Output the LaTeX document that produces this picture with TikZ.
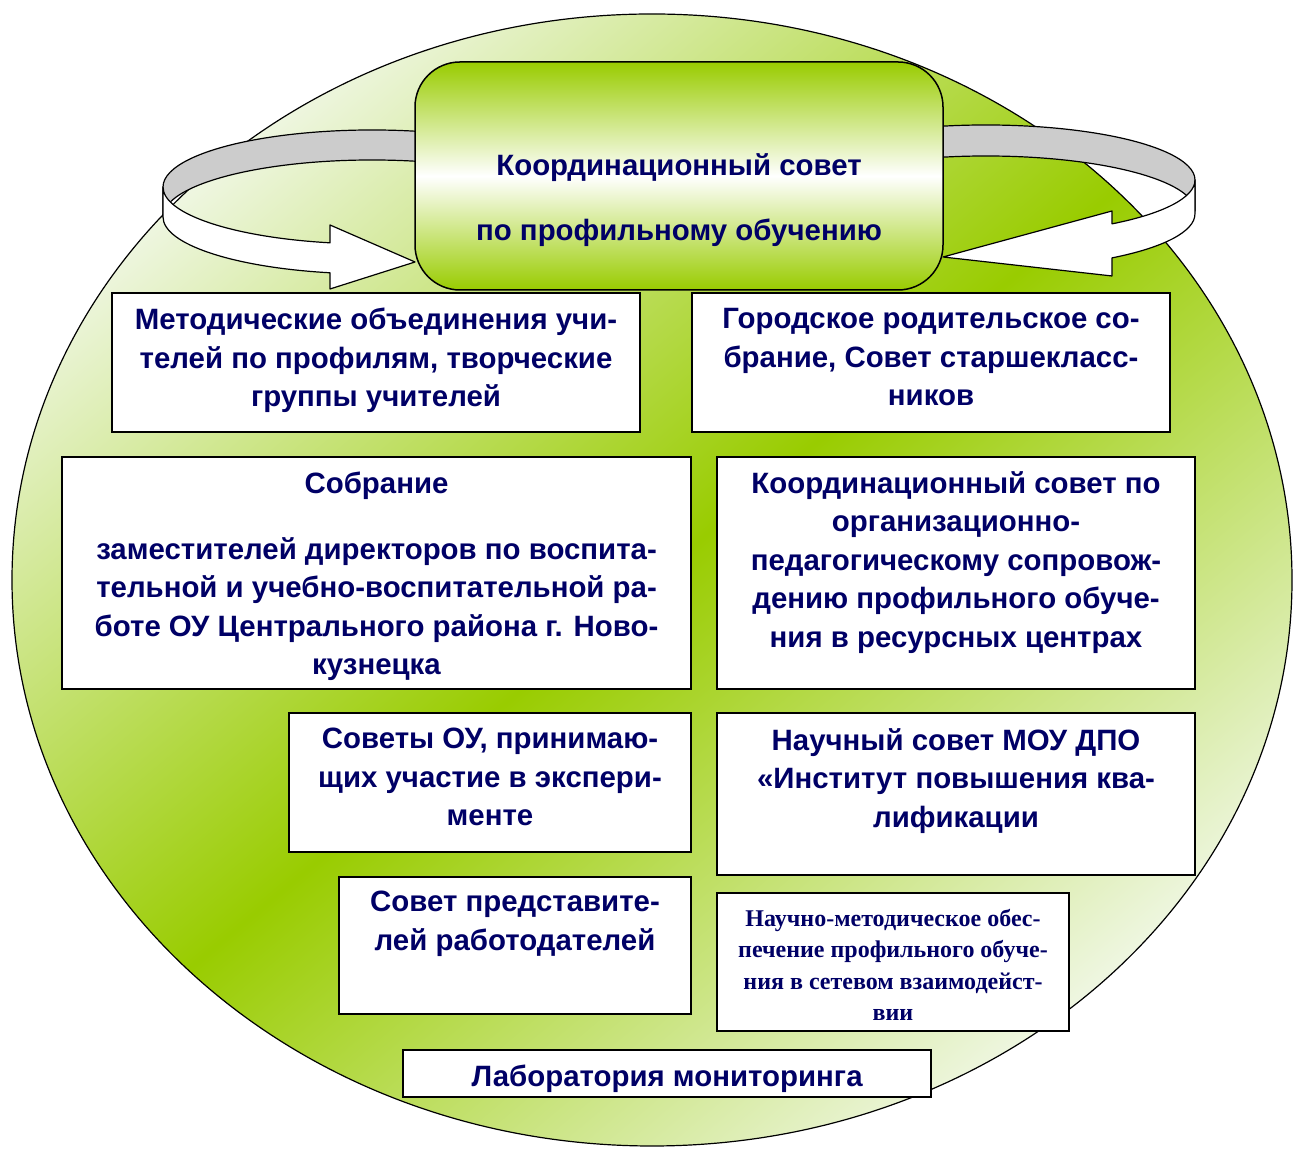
\documentclass[tikz,border=0pt]{standalone}
\usepackage{fontspec}
\setmainfont{Liberation Sans}
\newfontfamily\timesbox{Liberation Serif}
\usepackage{tikz}
\usetikzlibrary{positioning}
\definecolor{leaf}{RGB}{153,204,0}
\definecolor{pale}{RGB}{242,248,234}
\definecolor{bandgray}{RGB}{204,204,204}
\definecolor{inkblue}{RGB}{0,0,102}

\begin{document}
\begin{tikzpicture}[x=1pt,y=1pt,
  box/.style={draw,line width=1.5pt,fill=white,inner sep=0pt},
  txt/.style={inner sep=0pt,align=center,text=inkblue,
    font=\bfseries\fontsize{29.4}{38.5}\selectfont},
  ribbon/.style={draw,line width=1.2pt,line join=round}]
  \fill[white] (0,0) rectangle (1293,1150);
  \useasboundingbox (0,0) rectangle (1293,1150);

  % green disc
  \coordinate (disc) at (652,570);
  \begin{scope}
    \clip (disc) ellipse [x radius=640, y radius=566];
    \begin{scope}[transform canvas={rotate around={40:(disc)}}]
      \shade[top color=pale, bottom color=pale, middle color=leaf]
        (-48,-50) rectangle (1352,1190);
    \end{scope}
  \end{scope}
  \draw[line width=1.2pt] (disc) ellipse [x radius=640, y radius=566];

  % left ribbon
  \coordinate (lc) at (372,963);
  \coordinate (lefttip) at (415,888);
  \path[ribbon,fill=bandgray] (lc) ++(60:209 and 57)
    arc[start angle=60, end angle=180, x radius=209, y radius=57]
    -- ++(0,-30)
    arc[start angle=180, end angle=60, x radius=209, y radius=57] -- cycle;
  \path[ribbon,fill=white] (lc) ++(180:209 and 57)
    arc[start angle=180, end angle=258.4, x radius=209, y radius=57]
    -- (330,925) -- (lefttip) -- (330,861) -- (330,877.2)
    arc[start angle=258.4, end angle=180, x radius=209, y radius=57] -- cycle;

  % right ribbon
  \coordinate (rc) at (986,970);
  \coordinate (righttip) at (943,893);
  \path[ribbon,fill=bandgray] (rc) ++(120:209 and 55)
    arc[start angle=120, end angle=0, x radius=209, y radius=55]
    -- ++(0,-31)
    arc[start angle=0, end angle=120, x radius=209, y radius=55] -- cycle;
  \path[ribbon,fill=white] (rc) ++(0:209 and 55)
    arc[start angle=360, end angle=307.1, x radius=209, y radius=55]
    -- (1112,939) -- (righttip) -- (1112,874) -- (1112,892.1)
    arc[start angle=307.1, end angle=360, x radius=209, y radius=55] -- cycle;

  % council
  \node[draw,line width=1.5pt,rounded corners=45pt,
    top color=leaf,bottom color=leaf,middle color=white,
    minimum width=528,minimum height=228] (council) at (679,974) {};
  \node[txt,below=92pt of council.north] (counciltext)
    {Координационный совет\\[26.5pt]по профильному обучению};

  % boxes
  \node[box,minimum width=528,minimum height=139] (metod) at (376,787.5) {};
  \node[txt,below=16pt of metod.north] (metodtext)
    {Методические объединения учи-\\телей по профилям, творческие\\группы учителей};

  \node[box,minimum width=478,minimum height=139] (parents) at (931,787.5) {};
  \node[txt,below=16pt of parents.north] (parentstext)
    {Городское родительское со-\\брание, Совет старшекласс-\\ников};

  \node[box,minimum width=629,minimum height=232] (deputies) at (376.5,577) {};
  \node[txt,below=15pt of deputies.north] (deputiestext)
    {Собрание\\[27.5pt]заместителей директоров по воспита-\\тельной и учебно-воспитательной ра-\\боте ОУ Центрального района г. Ново-\\кузнецка};

  \node[box,minimum width=478,minimum height=232] (centres) at (956,577) {};
  \node[txt,below=15pt of centres.north] (centrestext)
    {Координационный совет по\\организационно-\\педагогическому сопровож-\\дению профильного обуче-\\ния в ресурсных центрах};

  \node[box,minimum width=402,minimum height=139] (schools) at (490,367.5) {};
  \node[txt,below=16pt of schools.north] (schoolstext)
    {Советы ОУ, принимаю-\\щих участие в экспери-\\менте};

  \node[box,minimum width=478,minimum height=162] (institute) at (956,356) {};
  \node[txt,below=16pt of institute.north] (institutetext)
    {Научный совет МОУ ДПО\\«Институт повышения ква-\\лификации};

  \node[box,minimum width=352,minimum height=137] (employers) at (515,204.5) {};
  \node[txt,below=15pt of employers.north] (employerstext)
    {Совет представите-\\лей работодателей};

  \node[box,minimum width=352,minimum height=138] (network) at (893,188) {};
  \node[txt,below=17pt of network.north,
    font=\timesbox\bfseries\fontsize{24}{31.3}\selectfont] (networktext)
    {Научно-методическое обес-\\печение профильного обуче-\\ния в сетевом взаимодейст-\\вии};

  \node[box,minimum width=528,minimum height=47] (lab) at (667,76.5) {};
  \node[txt,yshift=-5pt] (labtext) at (lab) {Лаборатория мониторинга};
\end{tikzpicture}
\end{document}
